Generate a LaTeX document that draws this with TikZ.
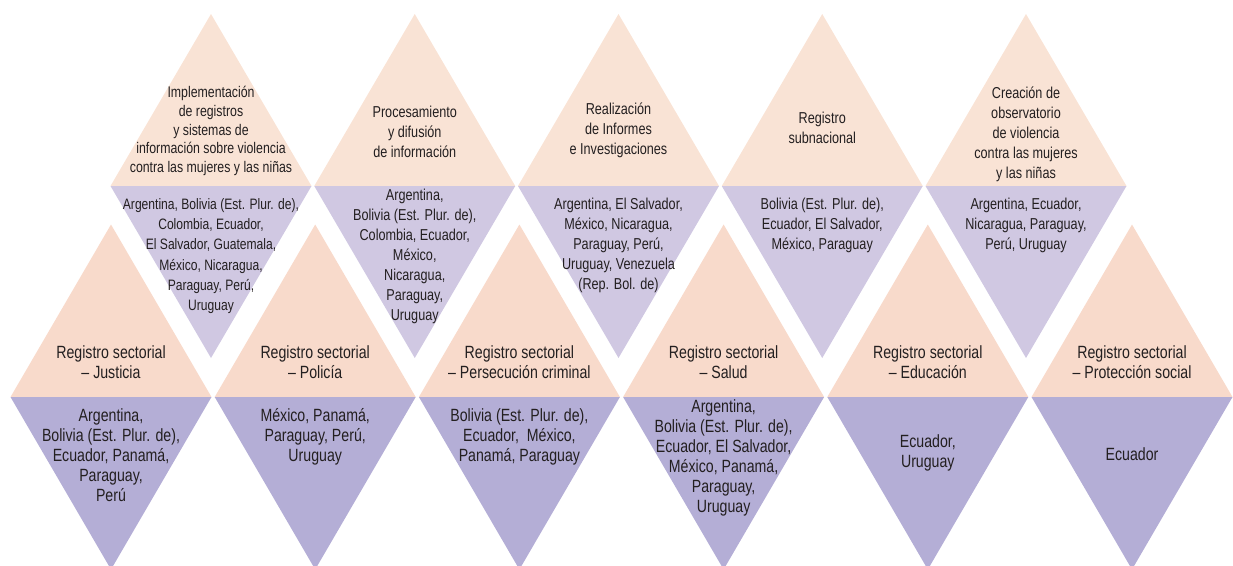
\documentclass[tikz,border=0pt]{standalone}
\usepackage{fontspec}
\setmainfont{Liberation Sans}[FakeStretch=0.8]
\definecolor{peachA}{HTML}{F9E3D5}
\definecolor{peachB}{HTML}{F8DACB}
\definecolor{lilacA}{HTML}{D0C8E2}
\definecolor{lilacB}{HTML}{B4AED6}
\definecolor{txt}{HTML}{231F20}
\begin{document}
\begin{tikzpicture}[x=1pt,y=-1pt,
  lbl/.style={align=center,text=txt,inner sep=0pt,anchor=center},
  toptxt/.style={lbl,font=\fontsize{15.8}{20}\selectfont},
  tlup/.style={lbl,font=\fontsize{15.4}{18.6}\selectfont},
  tllo/.style={lbl,font=\fontsize{15.1}{20.3}\selectfont},
  bottxt/.style={lbl,font=\fontsize{17.7}{20}\selectfont}]
\useasboundingbox (0,0) rectangle (1233,565);
\clip (0,0) rectangle (1233,565);
% top row diamonds
\foreach \c in {211,414.75,618.5,822.25,1026}{
  \fill[peachA] (\c-100.5,186) -- (\c,14) -- (\c+100.5,186) -- cycle;
  \fill[lilacA] (\c-100.5,186) -- (\c,358) -- (\c+100.5,186) -- cycle;
}
% bottom row diamonds
\foreach \c in {111,315.2,519.4,723.6,927.8,1132}{
  \fill[peachB] (\c-100.5,397) -- (\c,224.5) -- (\c+100.5,397) -- cycle;
  \fill[lilacB] (\c-100.5,397) -- (\c,569.5) -- (\c+100.5,397) -- cycle;
}
% top row texts
\node[tlup] (t1u) at (211,131) {Implementación\\de registros\\y sistemas de\\información sobre violencia\\contra las mujeres y las niñas};
\node[tllo] (t1l) at (211,256) {Argentina, Bolivia (Est. Plur. de),\\Colombia, Ecuador,\\El Salvador, Guatemala,\\México, Nicaragua,\\Paraguay, Perú,\\Uruguay};
\node[toptxt] (t2u) at (414.75,132) {Procesamiento\\y difusión\\de información};
\node[toptxt] (t2l) at (414.75,256) {Argentina,\\Bolivia (Est. Plur. de),\\Colombia, Ecuador,\\México,\\Nicaragua,\\Paraguay,\\Uruguay};
\node[toptxt] (t3u) at (618.5,130) {Realización\\de Informes\\e Investigaciones};
\node[toptxt] (t3l) at (618.5,245) {Argentina, El Salvador,\\México, Nicaragua,\\Paraguay, Perú,\\Uruguay, Venezuela\\(Rep. Bol. de)};
\node[toptxt] (t4u) at (822.25,128) {Registro\\subnacional};
\node[toptxt] (t4l) at (822.25,225) {Bolivia (Est. Plur. de),\\Ecuador, El Salvador,\\México, Paraguay};
\node[toptxt] (t5u) at (1026,134) {Creación de\\observatorio\\de violencia\\contra las mujeres\\y las niñas};
\node[toptxt] (t5l) at (1026,225) {Argentina, Ecuador,\\Nicaragua, Paraguay,\\Perú, Uruguay};
% bottom row texts
\node[bottxt] (b1u) at (111,362) {Registro sectorial\\– Justicia};
\node[bottxt] (b1l) at (111,455) {Argentina,\\Bolivia (Est. Plur. de),\\Ecuador, Panamá,\\Paraguay,\\Perú};
\node[bottxt] (b2u) at (315.2,362) {Registro sectorial\\– Policía};
\node[bottxt] (b2l) at (315.2,437) {México, Panamá,\\Paraguay, Perú,\\Uruguay};
\node[bottxt] (b3u) at (519.4,362) {Registro sectorial\\– Persecución criminal};
\node[bottxt] (b3l) at (519.4,437) {Bolivia (Est. Plur. de),\\Ecuador,\ \ México,\\Panamá, Paraguay};
\node[bottxt] (b4u) at (723.6,362) {Registro sectorial\\– Salud};
\node[bottxt] (b4l) at (723.6,458) {Argentina,\\Bolivia (Est. Plur. de),\\Ecuador, El Salvador,\\México, Panamá,\\Paraguay,\\Uruguay};
\node[bottxt] (b5u) at (927.8,362) {Registro sectorial\\– Educación};
\node[bottxt] (b5l) at (927.8,453) {Ecuador,\\Uruguay};
\node[bottxt] (b6u) at (1132,362) {Registro sectorial\\– Protección social};
\node[bottxt] (b6l) at (1132,454) {Ecuador};
\end{tikzpicture}
\end{document}
